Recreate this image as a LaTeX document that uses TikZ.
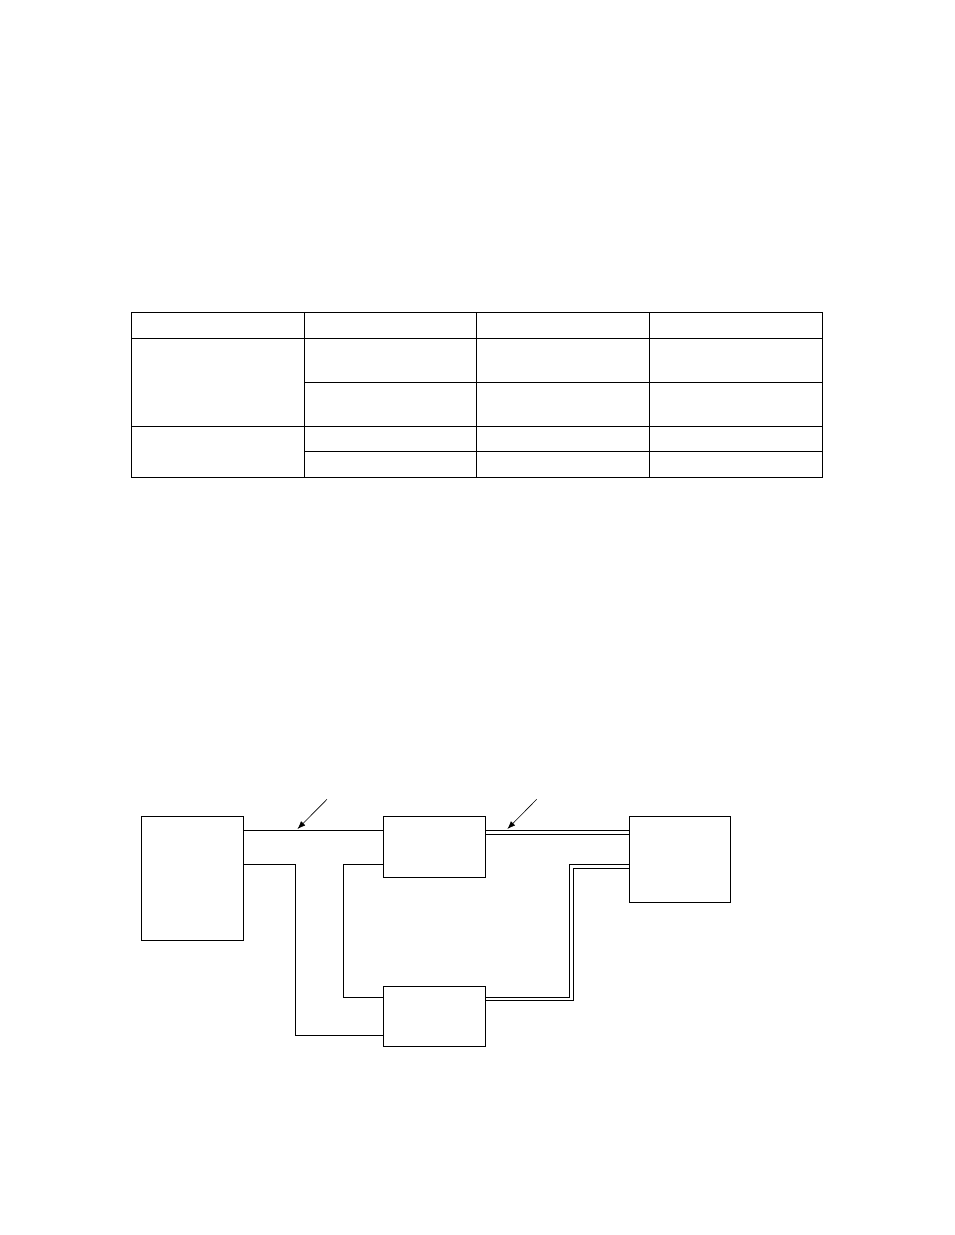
\documentclass[tikz,border=0pt]{standalone}
\usepackage{tikz}
\usetikzlibrary{positioning,arrows.meta}

\begin{document}
\begin{tikzpicture}[x=1pt,y=-1pt]
        \tikzstyle{every node}+=[inner sep=0pt]
        \tikzstyle{box}=[draw=black, line width=0.8pt, minimum width=102pt]
        \tikzstyle{wire}=[black, line width=0.7pt]
        \useasboundingbox (0,0) rectangle (954,1235);
        % table
        \draw [black, line width=1pt] (131.5,312.5) rectangle (822,477);
        \draw [black, line width=1pt] (131.5,312.5) -- (131.5,477);
        \foreach \x in {304,476.5,649}
            \draw [black, line width=1pt] (\x,312.5) -- (\x,477);
        \foreach \y in {338,426.5}
            \draw [black, line width=1pt] (131.5,\y) -- (822,\y);
        \foreach \y in {382.5,451.5}
            \draw [black, line width=1pt] (304,\y) -- (822,\y);
        % blocks
        \node [box, minimum height=124pt] (src) at (192,878) {};
        \node [box, minimum height=61pt] (mid) at (434,846.5) {};
        \node [box, minimum width=101pt, minimum height=86pt] (dst) at (679.5,859) {};
        \node [box, minimum height=60pt] (low) at (434,1016) {};
        % links
        \draw [wire] (src.east |- 0,830.3) -- (mid.west |- 0,830.3);
        \draw [wire] (src.east |- 0,864.3) -- (295.5,864.3) -- (295.5,1035.7) -- (low.west |- 0,1035.7);
        \draw [wire] (mid.west |- 0,864.3) -- (343.5,864.3) -- (343.5,997.3) -- (low.west |- 0,997.3);
        \foreach \y in {830.3,834.3}
            \draw [wire] (mid.east |- 0,\y) -- (dst.west |- 0,\y);
        \draw [wire] (low.east |- 0,997.3) -- (569.3,997.3) -- (569.3,864.3) -- (dst.west |- 0,864.3);
        \draw [wire] (low.east |- 0,1000.3) -- (572.9,1000.3) -- (572.9,867.9) -- (dst.west |- 0,867.9);
        % pointers
        \coordinate (p1) at (327,799.3);
        \coordinate (t1) at (297.5,829);
        \coordinate (p2) at (536.7,799.3);
        \coordinate (t2) at (507.4,829);
        \draw [black, line width=0.6pt, -{Latex[length=8pt,width=6pt]}] (p1) -- (t1);
        \draw [black, line width=0.6pt, -{Latex[length=8pt,width=6pt]}] (p2) -- (t2);
\end{tikzpicture}
\end{document}
